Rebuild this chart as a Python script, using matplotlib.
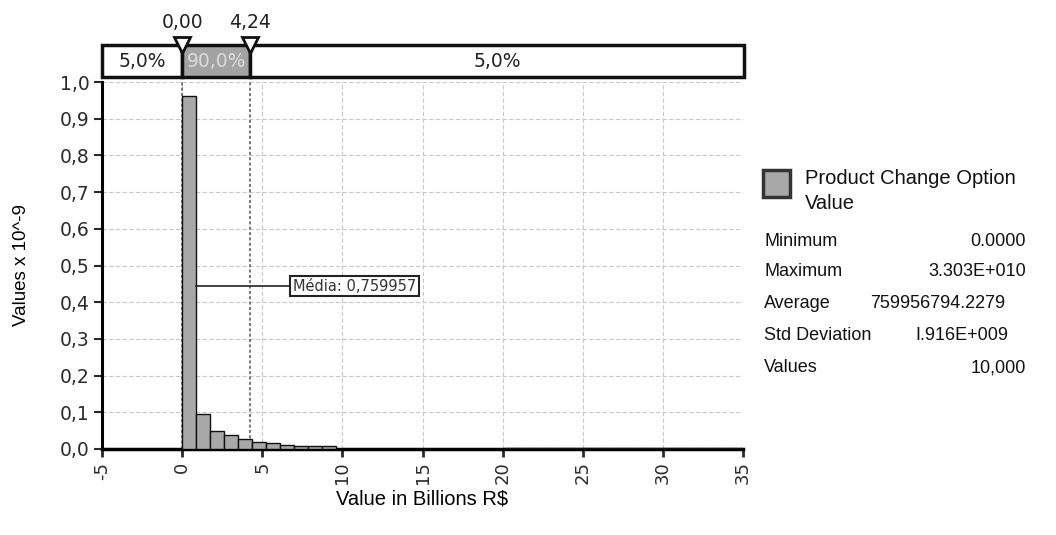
import matplotlib
matplotlib.use("Agg")
import matplotlib.pyplot as plt
from matplotlib.ticker import FuncFormatter
from matplotlib.patches import Rectangle
import numpy as np

# histogram data (values x 10^-9), 40 bins between 0 and 35 billion
bin_edges = np.linspace(0, 35, 41)
bar_heights = [0.962, 0.095, 0.050, 0.038, 0.028, 0.019, 0.015, 0.010, 0.009, 0.008,
               0.007, 0, 0, 0, 0, 0, 0, 0, 0, 0,
               0, 0, 0, 0.003, 0.002, 0.003, 0.002, 0.003, 0.002, 0.003,
               0.002, 0.003, 0.002, 0.003, 0.002, 0.003, 0.002, 0.003, 0.002, 0.003]

lower_cut = 0.00
upper_cut = 4.24
band_labels = ['5,0%', '90,0%', '5,0%']
mean_label = 'Média: 0,759957'

legend_title = 'Product Change Option\nValue'
stat_names = ['Minimum', 'Maximum', 'Average', 'Std Deviation', 'Values']
stat_values = ['0.0000', '3.303E+010', '759956794.2279', 'I.916E+009', '10,000']

plt.rcParams['axes.unicode_minus'] = False

W, H = 1056, 535
fig = plt.figure(figsize=(W / 100, H / 100), dpi=100)

def fx(px):
	return px / W

def fy(py):
	return 1 - py / H

# main axes
ax = fig.add_axes([fx(102), fy(449), fx(743) - fx(102), fy(82) - fy(449)])
lefts = bin_edges[:-1]
widths = np.diff(bin_edges)
ax.bar(lefts, bar_heights, width=widths, align='edge', color='#a8a8a8',
       edgecolor='#111111', linewidth=1.0, zorder=3)

ax.set_xlim(-5, 35)
ax.set_ylim(0, 1.0)
ax.set_xticks(range(-5, 36, 5))
ax.set_yticks(np.arange(0, 1.01, 0.1))
ax.yaxis.set_major_formatter(FuncFormatter(lambda v, p: ('%.1f' % v).replace('.', ',')))
ax.tick_params(axis='x', labelrotation=90, length=6, width=2, labelsize=13, colors='#2a2a2a', pad=3)
ax.tick_params(axis='y', length=6, width=1.5, labelsize=13.5, colors='#2a2a2a', pad=3)
ax.grid(True, color='#c8c8c8', linestyle=(0, (4, 2)), linewidth=0.8, zorder=0)
for s in ['top', 'right']:
	ax.spines[s].set_visible(False)
ax.spines['left'].set_linewidth(2.2)
ax.spines['bottom'].set_linewidth(2.5)

# cut-off lines
for c in [lower_cut, upper_cut]:
	ax.axvline(c, color='#555555', linestyle=(0, (2, 1.5)), linewidth=1.1, zorder=2)

# mean marker
ax.plot([0.875, 6.85], [0.444, 0.444], color='#222222', linewidth=1.2, zorder=4)
ax.text(6.9, 0.444, mean_label, fontsize=10.5, color='#333333', va='center', ha='left',
        bbox=dict(boxstyle='square,pad=0.2', fc='white', ec='#222222', lw=1.5), zorder=5)

ax.set_xlabel('Value in Billions R$', family='Liberation Sans', fontsize=14.5)
ax.xaxis.set_label_coords(0.5, -(490 - 449) / 367)
ax.set_ylabel('Values x 10^-9', family='Liberation Sans', fontsize=13.5)
ax.yaxis.set_label_coords(-(102 - 30) / 641, 0.5)

# delimiter band on top
band = fig.add_axes([fx(102), fy(77), fx(744) - fx(102), fy(45) - fy(77)])
band.set_xlim(-5, 35)
band.set_ylim(0, 1)
band.axis('off')
segments = [(-5, lower_cut), (lower_cut, upper_cut), (upper_cut, 35)]
fills = ['white', '#a3a3a3', 'white']
text_colors = ['#222222', '#dcdcdc', '#222222']
for (a, b), fc, lab, tc in zip(segments, fills, band_labels, text_colors):
	band.add_patch(Rectangle((a, 0), b - a, 1, facecolor=fc, edgecolor='#111111',
	                         linewidth=2.5, clip_on=False))
	band.text((a + b) / 2, 0.47, lab, ha='center', va='center', fontsize=13.5, color=tc)
for c in [lower_cut, upper_cut]:
	band.plot([c], [1.0], marker='v', markersize=12, markerfacecolor='white',
	          markeredgecolor='#111111', markeredgewidth=2, clip_on=False, zorder=5)
	band.text(c, 1.4, ('%.2f' % c).replace('.', ','), ha='center', va='bottom',
	          fontsize=13.5, color='#222222')

# legend and statistics
fig.add_artist(Rectangle((fx(763), fy(197)), fx(27), fy(170) - fy(197),
                         transform=fig.transFigure, facecolor='#a8a8a8',
                         edgecolor='#333333', linewidth=2.5))
fig.text(fx(805), fy(191), legend_title, family='Liberation Sans', fontsize=14.5,
         va='center', ha='left', color='#111111', linespacing=1.45)
row_y = [241, 272, 303, 335, 368]
value_x = [1026, 1026, 1005, 1008, 1026]
for name, val, yy, xx in zip(stat_names, stat_values, row_y, value_x):
	fig.text(fx(764), fy(yy), name, family='Liberation Sans', fontsize=13,
	         va='center', ha='left', color='#111111')
	fig.text(fx(xx), fy(yy), val, family='Liberation Sans', fontsize=13,
	         va='center', ha='right', color='#111111')

fig.savefig('out.png', dpi=100)
